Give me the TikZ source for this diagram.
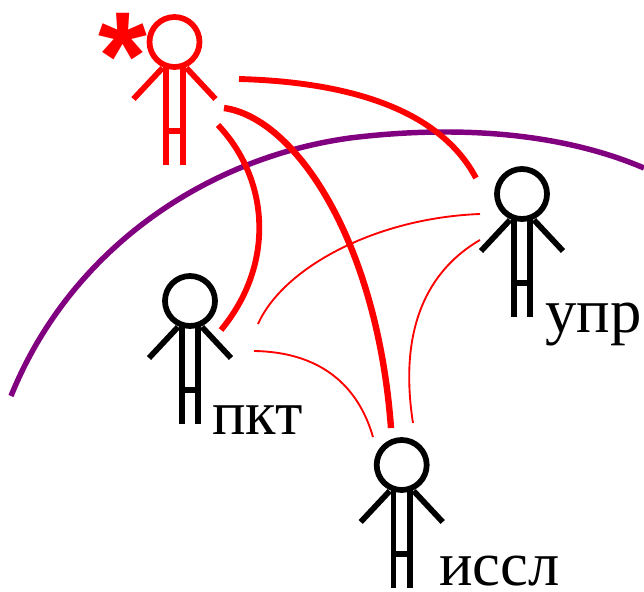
\documentclass[tikz,border=0pt]{standalone}
\usepackage{fontspec}
\setmainfont{Liberation Serif}
\newfontfamily\starfont{Liberation Sans}
\definecolor{arcpurple}{RGB}{128,0,128}
\tikzset{
  person/.pic={
    \draw [line width=4.3pt] (0,0) circle (25);
    \draw [line width=4.3pt] (-8.3,24) -- (-8.3,123) (8.3,24) -- (8.3,123) (-8.3,89) -- (8.3,89);
    \draw [line width=4.3pt] (-12,26) -- (-41,57) (12,26) -- (41,57);
  },
  thicklink/.style={color=red,line width=4.4pt},
  boldlink/.style={color=red,line width=4.8pt},
  thinlink/.style={color=red,line width=1.4pt},
  namelabel/.style={font=\fontsize{47}{47}\selectfont,inner sep=0pt,anchor=base west},
}
\begin{document}
\begin{tikzpicture}[x=0.75pt,y=0.75pt,yscale=-1,xscale=1]
\useasboundingbox (0,0) rectangle (644,592);

% Arc ends
\coordinate (gridL) at (11,396);
\coordinate (gridM) at (350,138);
\coordinate (gridR) at (644,168);
\coordinate (starA) at (239,79);
\coordinate (starB) at (224,108);
\coordinate (starC) at (218,125);
\coordinate (uprA) at (476,178);
\coordinate (uprD) at (480,214);
\coordinate (uprF) at (480,240);
\coordinate (pktC) at (221,330);
\coordinate (pktD) at (258,324);
\coordinate (pktE) at (254,351);
\coordinate (issB) at (391,428);
\coordinate (issE) at (373,437);
\coordinate (issF) at (413,423);

%Shape: Arc
\draw [color=arcpurple,line width=4.1pt] (gridL) .. controls (70,250) and (205,158) .. (gridM) .. controls (447,126) and (555,130) .. (gridR);

%Shape: Person
\draw (174.5,42) pic [color=red,transform shape] {person};
\draw (190,301) pic [transform shape] {person};
\draw (522,194) pic [transform shape] {person};
\draw (401.7,465) pic [transform shape] {person};

%Shape: Arc
\draw [thicklink] (starA) .. controls (350,82) and (440,110) .. (uprA);
\draw [boldlink] (starB) .. controls (295,118) and (377,240) .. (issB);
\draw [thicklink] (starC) .. controls (270,180) and (275,265) .. (pktC);
\draw [thinlink] (pktD) .. controls (283,268) and (375,218) .. (uprD);
\draw [thinlink] (pktE) .. controls (320,352) and (358,385) .. (issE);
\draw [thinlink] (issF) .. controls (400,340) and (420,275) .. (uprF);

% Text Node
\node (star) at (123,100) [namelabel,anchor=base,color=red,font=\fontsize{94}{94}\selectfont\starfont\bfseries] {*};
% Text Node
\node (pkt) at (212,434) [namelabel] {пкт};
% Text Node
\node (upr) at (545,333) [namelabel] {упр};
% Text Node
\node (issl) at (439,585) [namelabel] {иссл};

\end{tikzpicture}
\end{document}
